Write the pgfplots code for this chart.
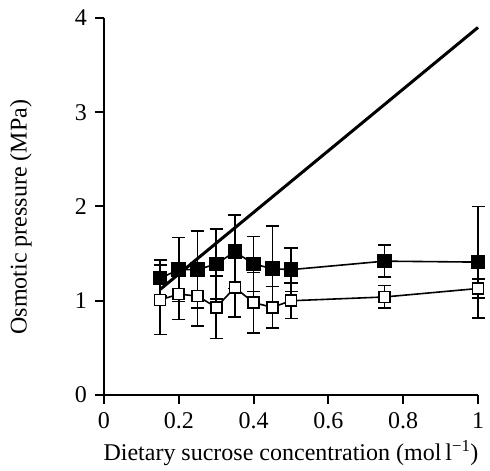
\documentclass[border=0pt]{standalone}
\usepackage{fontspec}
\setmainfont{Liberation Serif}
\usepackage{pgfplots}
\usepackage{pgfplotstable}
\pgfplotsset{compat=1.18}
\pgfplotstableread{
x y err
0.15 1.24 0.19
0.20 1.33 0.34
0.25 1.33 0.41
0.30 1.39 0.37
0.35 1.52 0.39
0.40 1.39 0.29
0.45 1.34 0.45
0.50 1.33 0.23
0.75 1.42 0.17
1.00 1.41 0.59
}\filled
\pgfplotstableread{
x y err
0.15 1.01 0.37
0.20 1.07 0.27
0.25 1.05 0.32
0.30 0.93 0.33
0.35 1.14 0.31
0.40 0.98 0.32
0.45 0.93 0.22
0.50 1.00 0.19
0.75 1.04 0.12
1.00 1.13 0.10
}\open
\begin{document}
\fontsize{24bp}{28bp}\selectfont
\begin{tikzpicture}[x=1bp,y=1bp]
\begin{axis}[
  at={(0,0)}, anchor=south west,
  scale only axis, width=374bp, height=377bp,
  xmin=0, xmax=1, ymin=0, ymax=4,
  axis x line*=bottom, axis y line*=left,
  axis line style={line width=2bp, black},
  xtick={0,0.2,0.4,0.6,0.8,1},
  ytick={0,1,2,3,4},
  tick align=outside, major tick length=9bp,
  tick style={line width=2bp, black},
  /pgf/number format/assume math mode=true,
  ticklabel style={font=\fontsize{24bp}{28bp}\selectfont},
  label style={font=\fontsize{24bp}{28bp}\selectfont},
  xlabel={Dietary sucrose concentration (mol\,l\textsuperscript{−1})},
  ylabel={Osmotic pressure (MPa)},
  xlabel style={at={(axis description cs:0.5,0)}, anchor=base, yshift=-65bp},
  ylabel style={at={(axis description cs:-0.222,0.472)}, anchor=center},
  clip=false,
]
\addplot[black, line width=3bp] coordinates {(0.15,1.12) (1.0,3.90)};
\addplot[black, line width=1.6bp, mark=square*, mark size=6.5bp,
  mark options={solid, fill=black},
  error bars/.cd, y dir=both, y explicit,
  error bar style={line width=1.6bp, black},
  error mark options={rotate=90, line width=1.6bp, mark size=6.5bp, black}]
  table[x=x, y=y, y error=err] {\filled};
\addplot[black, line width=1.6bp, mark=square*, mark size=5.5bp,
  mark options={solid, fill=white, line width=1.6bp},
  error bars/.cd, y dir=both, y explicit,
  error bar style={line width=1.6bp, black},
  error mark options={rotate=90, line width=1.6bp, mark size=6.5bp, black}]
  table[x=x, y=y, y error=err] {\open};
\end{axis}
\pgfresetboundingbox
\useasboundingbox (-104bp,-76bp) rectangle (386bp,395bp);
\end{tikzpicture}
\end{document}
